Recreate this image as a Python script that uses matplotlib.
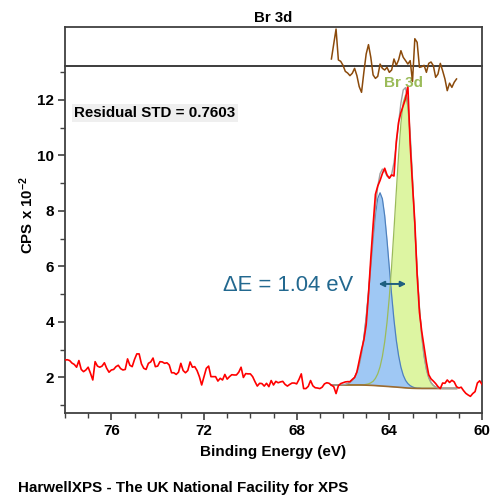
import numpy as np
import matplotlib
matplotlib.use('Agg')
import matplotlib.pyplot as plt
from matplotlib.ticker import MultipleLocator

plt.rcParams['font.family'] = ['Liberation Sans', 'DejaVu Sans']
plt.rcParams['font.weight'] = 'bold'
plt.rcParams['mathtext.fontset'] = 'custom'
plt.rcParams['mathtext.bf'] = 'Liberation Sans:bold'
plt.rcParams['mathtext.rm'] = 'Liberation Sans:bold'
plt.rcParams['mathtext.default'] = 'bf'

# ── data ──────────────────────────────────────────────────────────────────────
# measured spectrum, 78.0 -> 60.0 eV, 0.1 eV step (CPS x 10^-2)
BE = np.linspace(78.0, 60.0, 181)
CPS = [
    2.63, 2.64, 2.61, 2.52, 2.47, 2.37, 2.61, 2.29, 2.21, 2.27,
    2.37, 2.15, 1.91, 2.57, 2.41, 2.37, 2.41, 2.53, 2.33, 2.19,
    2.27, 2.29, 2.39, 2.44, 2.32, 2.27, 2.29, 2.67, 2.44, 2.39,
    2.65, 2.85, 2.85, 2.49, 2.33, 2.29, 2.51, 2.56, 2.70, 2.39,
    2.41, 2.57, 2.56, 2.51, 2.53, 2.45, 2.17, 2.17, 2.11, 2.19,
    2.51, 2.25, 2.17, 2.25, 2.56, 2.37, 2.39, 2.25, 2.03, 1.73,
    2.03, 2.33, 2.41, 2.03, 2.03, 2.03, 1.87, 1.97, 1.91, 2.11,
    1.94, 2.03, 2.10, 2.09, 2.09, 2.19, 2.37, 2.00, 2.14, 2.13,
    2.13, 2.03, 1.85, 1.69, 1.79, 1.78, 1.69, 1.79, 1.67, 1.89,
    1.73, 1.86, 1.81, 1.84, 1.86, 1.75, 1.69, 1.75, 1.80, 1.80,
    1.77, 1.93, 2.13, 1.60, 1.60, 1.68, 1.89, 1.70, 1.63, 1.62,
    1.60, 1.65, 1.77, 1.81, 1.79, 1.72, 1.67,
    1.42, 1.70, 1.78, 1.81, 1.84, 1.85, 1.85, 1.93, 2.00, 2.20,
    2.60, 3.00, 3.35, 3.90, 5.00, 6.30, 7.50, 8.60, 8.90, 9.10,
    9.35, 9.54, 9.30, 9.18, 9.30, 9.26, 10.50, 11.20, 11.55, 11.80,
    12.05, 12.50, 10.40, 8.95, 7.60, 5.70, 4.35, 3.65, 3.10, 2.55,
    2.10,
    1.95, 1.87, 1.78, 1.67, 1.60, 1.80, 1.79, 1.91, 1.82, 1.90,
    1.84, 1.67, 1.62, 1.65, 1.53, 1.43, 1.37, 1.32, 1.42, 1.49,
    1.80, 1.88, 1.75,
]

# fit region, 66.5 -> 61.1 eV
BE_FIT = np.linspace(66.5, 61.1, 55)
BACKGROUND = [
    1.73, 1.73, 1.73, 1.73, 1.73, 1.73, 1.73, 1.73, 1.73, 1.73, 1.73, 1.73, 1.73,
    1.728, 1.726, 1.723, 1.72, 1.717, 1.713, 1.708, 1.702, 1.696, 1.69,
    1.684, 1.678, 1.672, 1.666, 1.66, 1.654, 1.647, 1.64, 1.633, 1.626,
    1.62, 1.615, 1.611, 1.608, 1.606,
    1.605, 1.605, 1.605, 1.605, 1.605, 1.605, 1.605, 1.605, 1.605,
    1.605, 1.605, 1.605, 1.605, 1.605, 1.605, 1.605, 1.605,
]
PEAK_A = [   # blue, higher BE component
    0, 0, 0, 0,
    0.01, 0.01, 0.02, 0.05, 0.09, 0.16, 0.27, 0.45, 0.73, 1.14,
    1.69, 2.42, 3.30, 4.28, 5.27, 6.15, 6.75, 6.96, 6.75, 6.15,
    5.27, 4.28, 3.30, 2.42, 1.69, 1.14, 0.73, 0.45, 0.27, 0.16,
    0.09, 0.05, 0.02, 0.01, 0.01,
    0, 0, 0, 0, 0, 0, 0, 0, 0, 0, 0, 0, 0, 0, 0, 0,
]
PEAK_B = [   # green, Br 3d
    0, 0, 0, 0, 0, 0, 0, 0, 0, 0, 0, 0, 0,
    0.01, 0.01, 0.03, 0.05, 0.09, 0.15, 0.26, 0.43, 0.69, 1.07,
    1.60, 2.31, 3.23, 4.36, 5.66, 7.04, 8.38, 9.52, 10.28, 10.55,
    10.15, 9.05, 7.50, 5.81, 4.23, 2.90, 1.89, 1.17, 0.69, 0.39,
    0.21, 0.11, 0.05, 0.02, 0.01,
    0, 0, 0, 0, 0, 0, 0,
]
RESIDUAL = [
    0.31, 1.85, 3.38, 0.21, 0.07, -0.34, -0.96, -1.13, -1.40, -1.16,
    -0.65, -1.40, -2.53, -3.11, -1.06, 0.82, 1.78, 0.48, -1.33, -1.68,
    -1.47, -0.21, -0.65, -0.82, -0.55, -1.06, -0.82, 0.31, -0.34, 0.21,
    1.16, 0.48, 0.14, -0.21, 0.14, -2.00, 2.39, 2.02, -0.55, -0.48,
    -0.34, -1.06, -0.14, 0.00, -0.38, -1.57, -1.23, -0.14, -0.89, -1.74,
    -2.94, -2.17, -2.60, -2.08, -1.74,
]
PEAK_POS = [64.36, 63.32]   # component centres, for the delta-E arrow
STD_TEXT = 'Residual STD = 0.7603'

bg = np.array(BACKGROUND)
pa = bg + np.array(PEAK_A)
pb = bg + np.array(PEAK_B)
env = bg + np.array(PEAK_A) + np.array(PEAK_B)

# ── canvas ────────────────────────────────────────────────────────────────────
fig = plt.figure(figsize=(5, 5), dpi=100, facecolor='white')
ax = fig.add_axes([0.13, 0.174, 0.834, 0.694])
axr = fig.add_axes([0.13, 0.868, 0.834, 0.078])

SPINE = '#404040'

# green first, blue fill sits over it
ax.fill_between(BE_FIT, bg, pb, color='#ddf5a2', lw=0, zorder=2)
ax.fill_between(BE_FIT, bg, pa, color='#9fc8f4', lw=0, zorder=3)
ax.plot(BE_FIT, pa, color='#4f81bd', lw=0.9, zorder=4)
ax.plot(BE_FIT, pb, color='#9bbb59', lw=0.9, zorder=4)
ax.plot(BE_FIT, bg, color='#9c6a2f', lw=1.2, zorder=5)
ax.plot(BE_FIT, env, color='#a0a0a0', lw=1.0, zorder=6)
ax.plot(BE, CPS, color='#ff0000', lw=1.2, zorder=7)

ax.set_xlim(78.0, 60.0)
ax.set_ylim(0.72, 13.225)
ax.xaxis.set_major_locator(MultipleLocator(4))
ax.xaxis.set_minor_locator(MultipleLocator(1))
ax.yaxis.set_major_locator(MultipleLocator(2))
ax.yaxis.set_minor_locator(MultipleLocator(1))
ax.set_yticks([2, 4, 6, 8, 10, 12])
ax.tick_params(which='major', direction='out', length=5, width=1.2,
               color=SPINE, labelsize=11, pad=3)
ax.tick_params(which='minor', direction='out', length=3.5, width=1.0, color=SPINE)
ax.tick_params(top=False, right=False, which='both')
for s in ax.spines.values():
    s.set_color(SPINE); s.set_linewidth(1.3)

# residual panel
axr.set_xlim(78.0, 60.0)
axr.set_ylim(-0.41, 3.59)
axr.set_xticks([]); axr.set_yticks([])
axr.patch.set_alpha(0)
for s in axr.spines.values():
    s.set_color(SPINE); s.set_linewidth(1.3)
axr.plot(BE_FIT, RESIDUAL, color='#8b4a0b', lw=1.1, clip_on=False, zorder=10)

# ── labels ────────────────────────────────────────────────────────────────────
ax.text(77.6, 11.53, STD_TEXT, fontsize=10.9, fontweight='bold', ha='left', va='center',
        bbox=dict(facecolor='#efefef', edgecolor='none', pad=1.5), zorder=8)
ax.text(63.38, 12.62, 'Br 3d', color='#9bbb59', fontsize=11, fontweight='bold',
        ha='center', va='center', zorder=9)
ax.text(65.55, 5.33, r'ΔE = 1.04 eV', color='#22688f', fontsize=15.8,
        fontweight='normal', ha='right', va='center', zorder=9)
ax.annotate('', xy=(PEAK_POS[1] - 0.05, 5.37), xytext=(PEAK_POS[0] + 0.1, 5.37),
            arrowprops=dict(arrowstyle='<|-|>', color='#1f5f80', lw=1.4,
                            mutation_scale=8, shrinkA=0, shrinkB=0), zorder=9)

fig.text(0.547, 0.964, 'Br 3d', fontsize=10.8, fontweight='bold', ha='center', va='center')
fig.text(0.547, 0.096, 'Binding Energy (eV)', fontsize=11, fontweight='bold',
         ha='center', va='center')
fig.text(0.054, 0.57, r'CPS x 10$^{-2}$', fontsize=10.8, fontweight='bold',
         rotation=90, ha='center', va='center')
fig.text(0.036, 0.024, 'HarwellXPS - The UK National Facility for XPS', fontsize=10.9,
         fontweight='bold', ha='left', va='center')

plt.savefig('out.png', dpi=100, facecolor='white')
